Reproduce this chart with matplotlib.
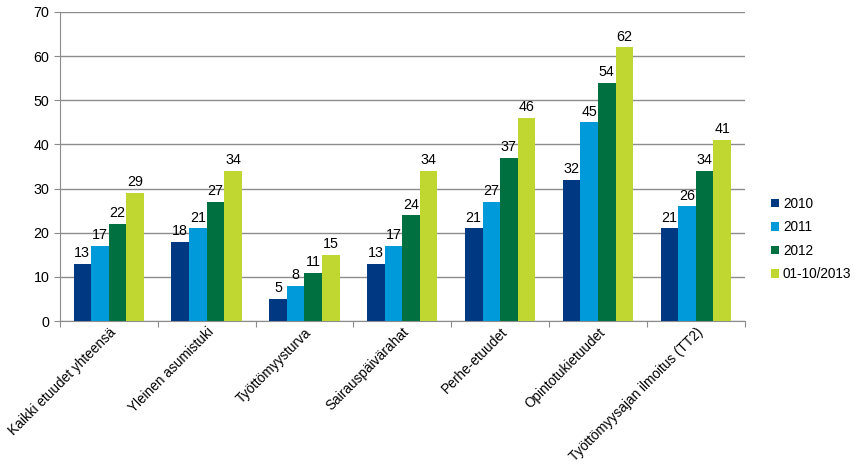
import numpy as np
import matplotlib.pyplot as plt

plt.rcParams['font.family'] = ['Liberation Sans', 'DejaVu Sans']

kategoriat = ["Kaikki etuudet yhteensä", "Yleinen asumistuki", "Työttömyysturva",
              "Sairauspäivärahat", "Perhe-etuudet", "Opintotukietuudet",
              "Työttömyysajan ilmoitus (TT2)"]
sarjat = ["2010", "2011", "2012", "01-10/2013"]
v2010 = [13, 18, 5, 13, 21, 32, 21]
v2011 = [17, 21, 8, 17, 27, 45, 26]
v2012 = [22, 27, 11, 24, 37, 54, 34]
v2013 = [29, 34, 15, 34, 46, 62, 41]
arvot = [v2010, v2011, v2012, v2013]
varit = ["#003882", "#009ADA", "#007041", "#C0D731"]

fig = plt.figure(figsize=(8.55, 4.75), dpi=100)
ax = fig.add_axes([0.070, 0.324, 0.801, 0.651])

x = np.arange(len(kategoriat))
leveys = 0.18
for i, (nimi, v, c) in enumerate(zip(sarjat, arvot, varit)):
    pos = x + (i - 1.5) * leveys
    ax.bar(pos, v, leveys, color=c, label=nimi, zorder=3)
    for px, py in zip(pos, v):
        ax.text(px, py + 0.8, str(py), ha="center", va="bottom", fontsize=10.3)

ax.set_xlim(-0.5, len(kategoriat) - 0.5)
ax.set_ylim(0, 70)
ax.set_yticks(range(0, 71, 10))
ax.yaxis.grid(True, color="#8c8c8c", linewidth=1, zorder=0)
ax.set_axisbelow(True)

ax.set_xticks(np.arange(-0.5, len(kategoriat), 1))
ax.set_xticklabels([])
ax.set_xticks(x, minor=True)
ax.set_xticklabels(kategoriat, minor=True, rotation=45, ha="right",
                   rotation_mode="anchor", fontsize=9.8)
ax.tick_params(axis="x", which="minor", length=0, pad=3)
ax.tick_params(axis="x", which="major", length=4, color="#8c8c8c")
ax.tick_params(axis="y", length=4, color="#8c8c8c", labelsize=10.3)

for s in ["top", "right"]:
    ax.spines[s].set_visible(False)
for s in ["left", "bottom"]:
    ax.spines[s].set_color("#8c8c8c")

ax.legend(loc="center left", bbox_to_anchor=(1.02, 0.265), frameon=False,
          fontsize=9.8, handlelength=0.6, handleheight=0.6, handletextpad=0.3,
          labelspacing=0.7)

fig.savefig("out.png", dpi=100)
